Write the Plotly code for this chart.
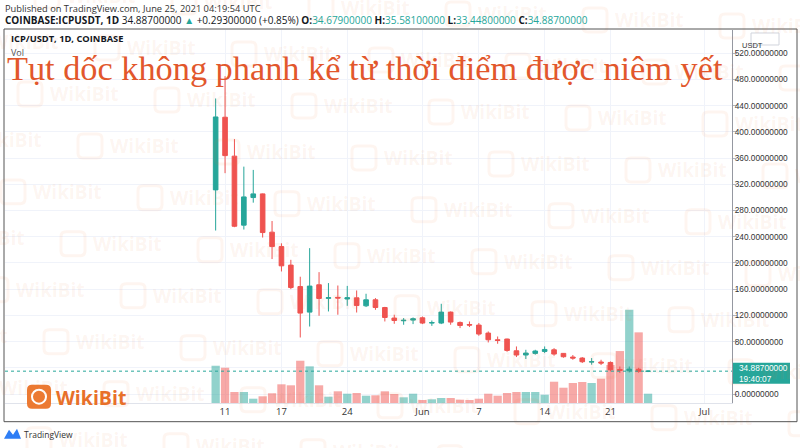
import plotly.graph_objects as go
import pandas as pd

# ---------------- data ----------------
dates = pd.date_range("2021-05-10", "2021-06-25", freq="D")
opens = [311.5, 422.4, 363.0, 257.7, 299.8, 305.4, 247.0, 225.0, 196.7, 164.0,
         125.0, 166.7, 146.0, 147.5, 145.0, 146.8, 134.6, 143.8, 132.0, 115.9,
         111.8, 112.8, 116.3, 108.3, 108.3, 125.0, 109.2, 106.1, 105.2, 93.0,
         82.8, 83.9, 66.0, 59.5, 62.0, 65.0, 67.5, 62.0, 56.4, 54.9,
         48.8, 48.8, 48.2, 37.5, 35.5, 37.8, 34.679]
highs = [451.0, 485.0, 389.0, 347.0, 342.0, 306.0, 264.0, 230.0, 204.8, 179.0,
         222.6, 186.0, 169.3, 165.6, 165.0, 158.0, 153.0, 146.4, 133.0, 121.0,
         115.9, 116.8, 118.3, 112.2, 137.7, 126.0, 110.7, 110.7, 108.3, 95.5,
         87.8, 84.5, 72.6, 67.5, 67.5, 72.6, 70.0, 62.5, 59.5, 56.4,
         54.9, 52.3, 49.7, 42.0, 42.0, 40.0, 35.581]
lows = [249.5, 337.0, 254.6, 251.0, 292.0, 238.8, 205.9, 187.0, 160.0, 86.3,
        103.0, 119.4, 126.0, 121.0, 134.6, 124.4, 132.7, 128.5, 110.7, 107.2,
        105.7, 106.7, 106.7, 104.0, 106.7, 105.7, 100.6, 102.2, 88.9, 78.7,
        76.7, 64.5, 56.4, 53.4, 60.0, 62.5, 58.4, 55.4, 52.3, 47.3,
        44.7, 44.2, 34.5, 32.0, 33.0, 32.5, 33.448]
closes = [422.8, 363.8, 256.0, 300.8, 305.4, 246.4, 225.0, 195.6, 162.5, 123.5,
          164.7, 145.8, 147.0, 146.5, 147.0, 135.0, 143.8, 132.0, 116.8, 112.2,
          112.5, 114.8, 108.3, 109.0, 125.0, 109.8, 104.6, 105.2, 91.5, 82.8,
          81.7, 66.5, 59.5, 62.5, 65.6, 68.0, 61.0, 56.9, 54.9, 49.3,
          49.3, 47.3, 37.0, 36.0, 38.0, 34.594, 34.887]
# volume (relative units)
volumes = [37.3, 35.3, 11.0, 11.0, 4.3, 6.7, 9.7, 18.7, 17.7, 42.3,
           36.7, 17.7, 6.3, 11.7, 9.3, 10.0, 7.3, 7.7, 11.7, 9.0,
           5.7, 9.3, 3.0, 3.7, 5.0, 5.0, 3.3, 3.0, 4.3, 9.3,
           7.3, 10.0, 11.0, 11.0, 11.0, 8.3, 21.3, 15.3, 20.0, 21.0,
           20.0, 24.3, 38.0, 52.0, 93.3, 70.7, 9.3]

tick_dates = ["2021-05-11", "2021-05-17", "2021-05-24", "2021-06-01",
              "2021-06-07", "2021-06-14", "2021-06-21", "2021-07-01"]
tick_text = ["11", "17", "24", "Jun", "7", "14", "21", "Jul"]
price_ticks = list(range(0, 521, 40))
last_price = 34.887

UP = "#26a69a"
DOWN = "#ef5350"
GRID = "#f0f3fa"

# ---------------- layout helpers (pixel -> paper) ----------------
W, H = 800, 448
ML, MR, MT, MB = 5, 68, 30, 44.7
PW, PH = W - ML - MR, H - MT - MB


def fx(xp):
    return (xp - ML) / PW


def fy(yp):
    return (H - MB - yp) / PH


def rounded(x0, y0, x1, y1, r):
    return (f"M {fx(x0 + r)},{fy(y0)} L {fx(x1 - r)},{fy(y0)} "
            f"Q {fx(x1)},{fy(y0)} {fx(x1)},{fy(y0 + r)} "
            f"L {fx(x1)},{fy(y1 - r)} Q {fx(x1)},{fy(y1)} {fx(x1 - r)},{fy(y1)} "
            f"L {fx(x0 + r)},{fy(y1)} Q {fx(x0)},{fy(y1)} {fx(x0)},{fy(y1 - r)} "
            f"L {fx(x0)},{fy(y0 + r)} Q {fx(x0)},{fy(y0)} {fx(x0 + r)},{fy(y0)} Z")


fig = go.Figure()

vol_colors = ["rgba(38,166,154,0.5)" if c >= o else "rgba(239,83,80,0.5)"
              for o, c in zip(opens, closes)]
fig.add_trace(go.Bar(x=dates, y=volumes, marker_color=vol_colors,
                     marker_line_width=0, yaxis="y", hoverinfo="skip"))

fig.add_trace(go.Candlestick(
    x=dates, open=opens, high=highs, low=lows, close=closes, yaxis="y2",
    increasing=dict(line=dict(color=UP, width=1), fillcolor=UP),
    decreasing=dict(line=dict(color=DOWN, width=1), fillcolor=DOWN),
    whiskerwidth=0))

FONT = "Open Sans"

fig.update_layout(
    width=W, height=H,
    margin=dict(l=ML, r=MR, t=MT, b=MB),
    paper_bgcolor="white", plot_bgcolor="white",
    showlegend=False, bargap=0.12,
    font=dict(family=FONT, color="#131722"),
    xaxis=dict(type="date", range=["2021-04-17 14:10", "2021-07-03 22:20"],
               tickvals=tick_dates, ticktext=tick_text,
               tickfont=dict(size=9.5, color="#333"),
               showgrid=True, gridcolor=GRID, gridwidth=1,
               showline=True, linecolor="#e0e3eb", linewidth=1,
               ticks="", rangeslider=dict(visible=False), fixedrange=True),
    yaxis=dict(range=[0, PH], visible=False, showgrid=False, fixedrange=True),
    yaxis2=dict(overlaying="y", side="right", range=[-13.7, 555.5],
                tickvals=price_ticks, tickformat=".8f",
                tickfont=dict(size=8.3, family="Liberation Sans", color="#333"),
                showgrid=True, gridcolor=GRID, gridwidth=1, zeroline=False,
                showline=True, linecolor="#9598a1", linewidth=1,
                ticks="outside", ticklen=4, tickcolor="#b2b5be",
                ticklabelstandoff=-4, fixedrange=True),
)

shapes = []
annotations = []

# watermark tiles
A = (292, 106)
v1 = (77, -46)
v2 = (60, 52)
WM = "rgba(235,115,55,0.075)"
for a in range(-12, 13):
    for b in range(-12, 13):
        x = A[0] + a * v1[0] + b * v2[0]
        y = A[1] + a * v1[1] + b * v2[1]
        if -110 < x < 800 and -20 < y < 470:
            shapes.append(dict(type="path", xref="paper", yref="paper",
                               path=rounded(x, y - 12, x + 24, y + 12, 5),
                               line=dict(color=WM, width=3), fillcolor="rgba(0,0,0,0)",
                               layer="above"))
            annotations.append(dict(text="<b>WikiBit</b>", xref="paper", yref="paper",
                                    x=fx(x + 30), y=fy(y), xanchor="left", yanchor="middle",
                                    showarrow=False,
                                    font=dict(size=19, color=WM, family=FONT)))

# frame
shapes.append(dict(type="rect", xref="paper", yref="paper",
                   x0=fx(4), x1=fx(797), y0=fy(29), y1=fy(422),
                   line=dict(color="#555", width=1), layer="above"))
# last price dotted line
shapes.append(dict(type="line", xref="paper", yref="y2", x0=0, x1=1,
                   y0=last_price, y1=last_price,
                   line=dict(color=UP, width=1, dash="dot"), layer="above"))
# current price label box
shapes.append(dict(type="rect", xref="paper", yref="paper",
                   x0=fx(733), x1=fx(790), y0=fy(363), y1=fy(384),
                   line=dict(width=0), fillcolor=UP, layer="above"))
annotations.append(dict(text="34.88700000<br>19:40:07", xref="paper", yref="paper",
                        x=fx(737), y=fy(373.5), xanchor="left", yanchor="middle",
                        align="left", showarrow=False,
                        font=dict(size=8.3, color="white", family="Liberation Sans")))
# USDT box
shapes.append(dict(type="rect", xref="paper", yref="paper",
                   x0=fx(751), x1=fx(779), y0=fy(33), y1=fy(45),
                   line=dict(color="#d1d4dc", width=1), fillcolor="white", layer="above"))
annotations.append(dict(text="USDT", xref="paper", yref="paper",
                        x=fx(765), y=fy(39.5), showarrow=False,
                        font=dict(size=7.5, color="#333", family="Liberation Sans")))

# header
annotations.append(dict(text="Published on TradingView.com, June 25, 2021 04:19:54 UTC",
                        xref="paper", yref="paper", x=fx(3), y=fy(8),
                        xanchor="left", yanchor="middle", showarrow=False,
                        font=dict(size=9.3, color="#333", family=FONT)))
tl = f"<span style='color:{UP}'>"
annotations.append(dict(
    text=("<b>COINBASE:ICPUSDT, 1D</b> 34.88700000 " + tl + "▲</span> +0.29300000 (+0.85%) "
          "<b>O:</b>" + tl + "34.67900000</span> <b>H:</b>" + tl + "35.58100000</span> "
          "<b>L:</b>" + tl + "33.44800000</span> <b>C:</b>" + tl + "34.88700000</span>"),
    xref="paper", yref="paper", x=fx(3), y=fy(19.5), xanchor="left", yanchor="middle",
    showarrow=False, font=dict(size=10, color="#131722", family=FONT)))
annotations.append(dict(text="<b>ICP/USDT, 1D, COINBASE</b>", xref="paper", yref="paper",
                        x=fx(9), y=fy(38.5), xanchor="left", yanchor="middle",
                        showarrow=False, font=dict(size=9.3, color="#131722", family=FONT)))
annotations.append(dict(text="Vol", xref="paper", yref="paper",
                        x=fx(9), y=fy(53), xanchor="left", yanchor="middle",
                        showarrow=False, font=dict(size=9, color="#555", family=FONT)))

# title overlay
annotations.append(dict(text="Tụt dốc không phanh kể từ thời điểm được niêm yết",
                        xref="paper", yref="paper", x=fx(5), y=fy(68),
                        xanchor="left", yanchor="middle", showarrow=False,
                        font=dict(size=34.3, color="#e2572c", family="Liberation Serif")))

# WikiBit logo bottom-left
shapes.append(dict(type="path", xref="paper", yref="paper",
                   path=rounded(27, 385, 51, 409, 5),
                   line=dict(width=0), fillcolor="#ec7a32", layer="above"))
shapes.append(dict(type="circle", xref="paper", yref="paper",
                   x0=fx(32), x1=fx(46), y0=fy(390), y1=fy(404),
                   line=dict(color="white", width=2), fillcolor="rgba(0,0,0,0)",
                   layer="above"))
annotations.append(dict(text="<b>WikiBit</b>", xref="paper", yref="paper",
                        x=fx(54), y=fy(397.5), xanchor="left", yanchor="middle",
                        showarrow=False,
                        font=dict(size=19.5, color="#e8702a", family=FONT)))

# TradingView footer
shapes.append(dict(type="path", xref="paper", yref="paper",
                   path=(f"M {fx(4)},{fy(439)} L {fx(9)},{fy(430)} L {fx(13)},{fy(435)} "
                         f"L {fx(17)},{fy(429)} L {fx(21)},{fy(439)} Z"),
                   line=dict(width=0), fillcolor="#2f7ef5", layer="above"))
annotations.append(dict(text="TradingView", xref="paper", yref="paper",
                        x=fx(22), y=fy(435), xanchor="left", yanchor="middle",
                        showarrow=False, font=dict(size=8.5, color="#333", family=FONT)))

fig.update_layout(shapes=shapes, annotations=annotations)
fig.write_html("out.html", config={"displayModeBar": False},
               post_script="document.body.style.margin='0';")
